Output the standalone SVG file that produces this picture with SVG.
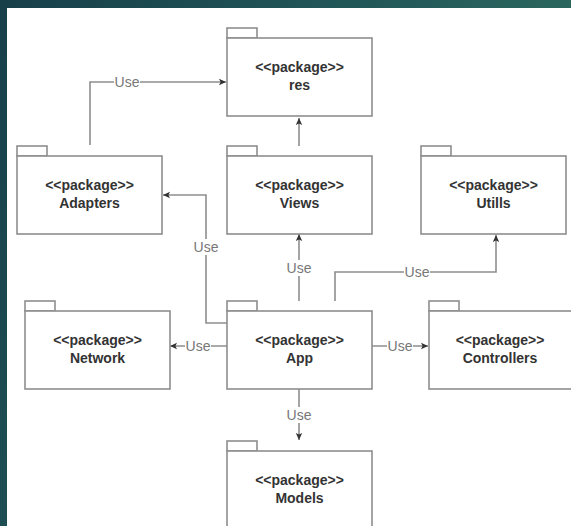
<svg xmlns="http://www.w3.org/2000/svg" width="571" height="526" viewBox="0 0 571 526">
  <defs>
    <linearGradient id="frame" x1="0" y1="0" x2="1" y2="0.4">
      <stop offset="0" stop-color="#173f4a"/>
      <stop offset="0.6" stop-color="#235a5a"/>
      <stop offset="1" stop-color="#2f6c5f"/>
    </linearGradient>
    <marker id="arrow" viewBox="0 0 8 8" refX="7" refY="4" markerWidth="8" markerHeight="8" markerUnits="userSpaceOnUse" orient="auto">
      <path d="M0,0.8 L7,4 L0,7.2 L1.6,4 Z" fill="#333"/>
    </marker>
    <!-- UML package shape: tab + body, positioned by translate -->
    <g id="pkg">
      <rect x="0" y="0" width="30" height="10" class="shape"/>
      <rect x="0" y="10" width="145" height="78" class="shape"/>
    </g>
  </defs>
  <style>
    .shape { fill: #ffffff; stroke: #8e8e8e; stroke-width: 1.6; }
    .name { font-family: "Liberation Sans", Arial, sans-serif; font-size: 14px; font-weight: bold; fill: #333; text-anchor: middle; }
    .edge { fill: none; stroke: #8e8e8e; stroke-width: 1.6; }
    .arrowed { marker-end: url(#arrow); }
    .lbl-bg { fill: #ffffff; }
    .lbl { font-family: "Liberation Sans", Arial, sans-serif; font-size: 14px; fill: #777; text-anchor: middle; }
  </style>

  <!-- frame and canvas -->
  <rect x="0" y="0" width="571" height="526" fill="url(#frame)"/>
  <rect x="7" y="8" width="564" height="518" fill="#ffffff"/>

  <!-- connectors -->
  <g id="connectors">
    <path class="edge arrowed" d="M90,145 V82 H226"/>
    <path class="edge arrowed" d="M299,146 V118"/>
    <path class="edge arrowed" d="M299,301 V234"/>
    <path class="edge arrowed" d="M227,323 H206 V195 H163"/>
    <path class="edge arrowed" d="M335,301 V272 H496 V235"/>
    <path class="edge arrowed" d="M227,346 H170"/>
    <path class="edge arrowed" d="M372,346 H428"/>
    <path class="edge arrowed" d="M299,389 V440"/>

    <rect class="lbl-bg" x="114" y="74" width="26" height="16"/>
    <text class="lbl" x="127" y="87">Use</text>
    <rect class="lbl-bg" x="193" y="239" width="26" height="16"/>
    <text class="lbl" x="206" y="252">Use</text>
    <rect class="lbl-bg" x="286" y="260" width="26" height="16"/>
    <text class="lbl" x="299" y="273">Use</text>
    <rect class="lbl-bg" x="404" y="264" width="26" height="16"/>
    <text class="lbl" x="417" y="277">Use</text>
    <rect class="lbl-bg" x="185" y="338" width="26" height="16"/>
    <text class="lbl" x="198" y="351">Use</text>
    <rect class="lbl-bg" x="387" y="338" width="26" height="16"/>
    <text class="lbl" x="400" y="351">Use</text>
    <rect class="lbl-bg" x="286" y="407" width="26" height="16"/>
    <text class="lbl" x="299" y="420">Use</text>
  </g>

  <!-- packages -->
  <g id="res">
    <use href="#pkg" x="227" y="28"/>
    <text class="name" x="299.5" y="72">&lt;&lt;package&gt;&gt;</text>
    <text class="name" x="299.5" y="90">res</text>
  </g>
  <g id="adapters">
    <use href="#pkg" x="17" y="146"/>
    <text class="name" x="89.5" y="190">&lt;&lt;package&gt;&gt;</text>
    <text class="name" x="89.5" y="208">Adapters</text>
  </g>
  <g id="views">
    <use href="#pkg" x="227" y="146"/>
    <text class="name" x="299.5" y="190">&lt;&lt;package&gt;&gt;</text>
    <text class="name" x="299.5" y="208">Views</text>
  </g>
  <g id="utills">
    <use href="#pkg" x="421" y="146"/>
    <text class="name" x="493.5" y="190">&lt;&lt;package&gt;&gt;</text>
    <text class="name" x="493.5" y="208">Utills</text>
  </g>
  <g id="network">
    <use href="#pkg" x="25" y="301"/>
    <text class="name" x="97.5" y="345">&lt;&lt;package&gt;&gt;</text>
    <text class="name" x="97.5" y="363">Network</text>
  </g>
  <g id="app">
    <use href="#pkg" x="227" y="301"/>
    <text class="name" x="299.5" y="345">&lt;&lt;package&gt;&gt;</text>
    <text class="name" x="299.5" y="363">App</text>
  </g>
  <g id="controllers">
    <use href="#pkg" x="429" y="301"/>
    <text class="name" x="500" y="345">&lt;&lt;package&gt;&gt;</text>
    <text class="name" x="500" y="363">Controllers</text>
  </g>
  <g id="models">
    <use href="#pkg" x="227" y="441"/>
    <text class="name" x="299.5" y="485">&lt;&lt;package&gt;&gt;</text>
    <text class="name" x="299.5" y="503">Models</text>
  </g>
</svg>
